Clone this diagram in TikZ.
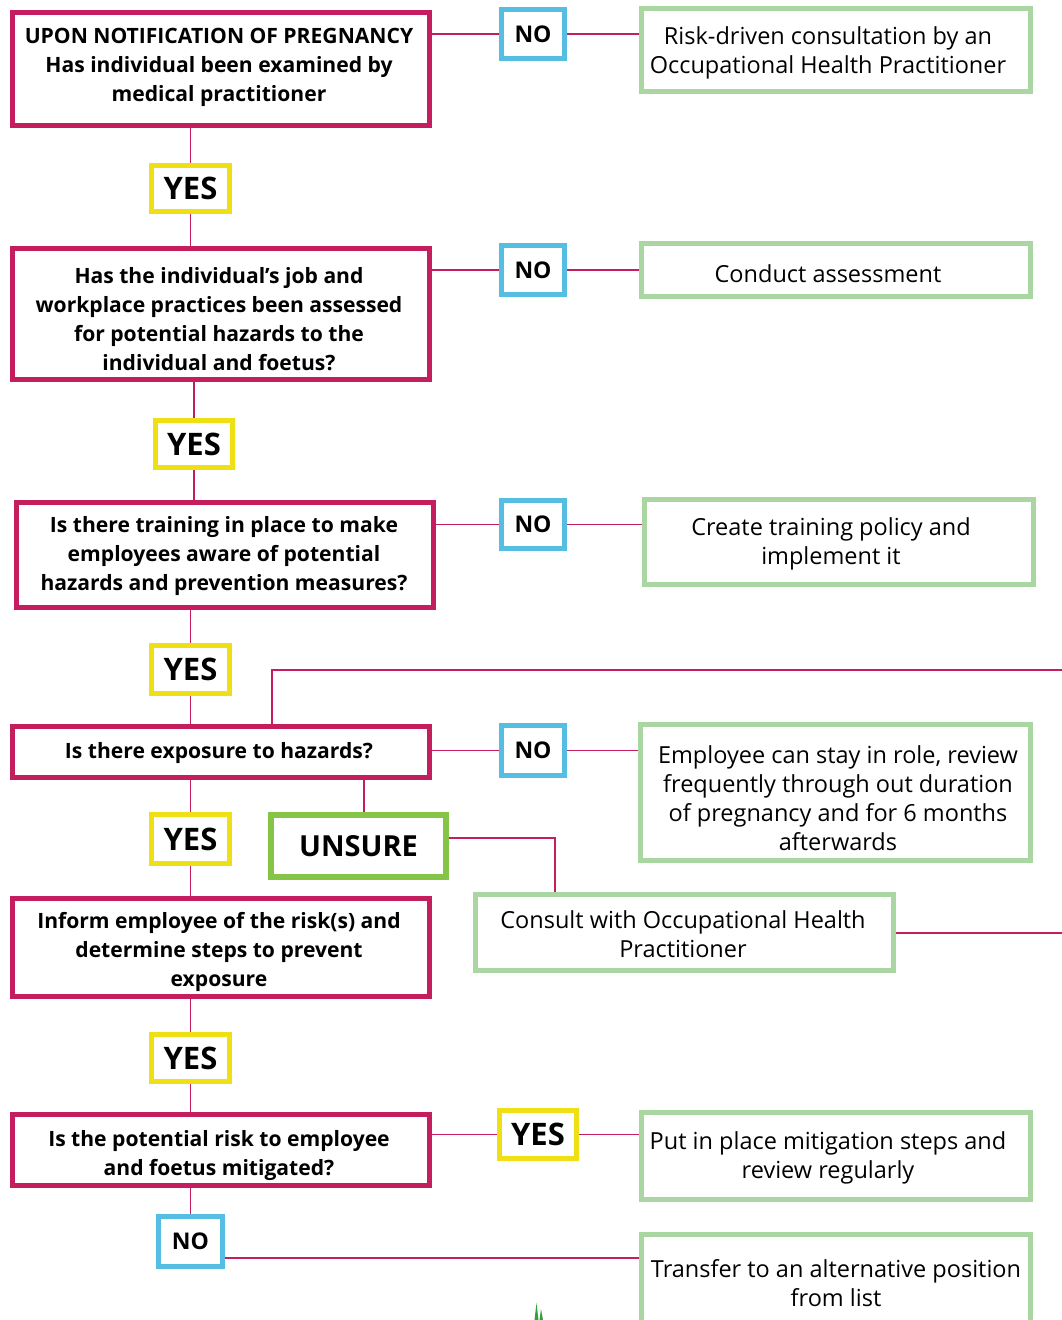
\documentclass[tikz,border=0pt]{standalone}
\usepackage{fontspec}
\setmainfont{Open Sans}
\usetikzlibrary{backgrounds}
\definecolor{mag}{RGB}{196,30,94}
\definecolor{nblue}{RGB}{86,190,226}
\definecolor{yel}{RGB}{238,224,20}
\definecolor{lgreen}{RGB}{170,214,162}
\definecolor{ugreen}{RGB}{132,196,70}
\definecolor{spike}{RGB}{50,160,60}
\newcommand\bx[7]{\node[#1, minimum width={#4-#2-5}, minimum height={#5-#3-5}] (#6) at ({(#2+#4)/2},{(#3+#5)/2}) {#7};}
\begin{document}
\begin{tikzpicture}[x=1pt,y=-1pt,
  qbox/.style={draw=mag, line width=5pt, fill=white, inner sep=0pt},
  gbox/.style={draw=lgreen, line width=5pt, fill=white, inner sep=0pt},
  nobox/.style={draw=nblue, line width=5pt, fill=white, inner sep=0pt, font=\bfseries\fontsize{23}{28}\selectfont},
  yesbox/.style={draw=yel, line width=5pt, fill=white, inner sep=0pt, font=\bfseries\fontsize{31}{34}\selectfont},
  unbox/.style={draw=ugreen, line width=6pt, fill=white, inner sep=0pt, font=\bfseries\fontsize{29}{34}\selectfont},
  qt/.style={font=\bfseries\fontsize{21.1}{29}\selectfont, align=center, inner sep=0pt, yshift=-2.5pt},
  gt/.style={font=\fontsize{23.5}{29}\selectfont, align=center, inner sep=0pt, yshift=-2pt},
  conn/.style={draw=mag, line width=1.8pt}]
\useasboundingbox (0,0) rectangle (1062,1320);
% question boxes
\bx{qbox}{10}{10}{432}{128}{b1}{}
\bx{qbox}{10}{246}{432}{382}{b2}{}
\bx{qbox}{14}{500}{436}{610}{b3}{}
\bx{qbox}{10}{724}{432}{780}{b4}{}
\bx{qbox}{10}{896}{432}{999}{b5}{}
\bx{qbox}{10}{1112}{432}{1188}{b6}{}
% answer boxes
\bx{nobox}{499}{7}{567}{61}{n1}{NO}
\bx{nobox}{499}{243}{567}{297}{n2}{NO}
\bx{nobox}{499}{498}{567}{551}{n3}{NO}
\bx{nobox}{499}{723}{567}{778}{n4}{NO}
\bx{nobox}{156}{1214}{225}{1269}{n5}{NO}
\bx{yesbox}{149}{163}{232}{214}{y1}{YES}
\bx{yesbox}{153}{418}{235}{470}{y2}{YES}
\bx{yesbox}{149}{643}{232}{696}{y3}{YES}
\bx{yesbox}{149}{812}{232}{866}{y4}{YES}
\bx{yesbox}{149}{1032}{232}{1084}{y5}{YES}
\bx{yesbox}{497}{1108}{579}{1161}{y6}{YES}
\node[unbox, minimum width=175pt, minimum height=62pt] (un) at (358.5,846) {UNSURE};
% outcome boxes
\bx{gbox}{639}{6}{1033}{94}{g1}{}
\bx{gbox}{639}{241}{1033}{299}{g2}{}
\bx{gbox}{642}{497}{1036}{587}{g3}{}
\bx{gbox}{638}{722}{1033}{863}{g4}{}
\bx{gbox}{473}{892}{896}{973}{g5}{}
\bx{gbox}{639}{1110}{1033}{1202}{g6}{}
\bx{gbox}{639}{1232}{1033}{1335}{g7}{}
% texts
\node[qt] (b1t) at (219,65) {UPON NOTIFICATION OF PREGNANCY\\Has individual been examined by\\medical practitioner};
\node[qt] (b2t) at (219,316.5) {Has the individual’s job and\\workplace practices been assessed\\for potential hazards to the\\individual and foetus?};
\node[qt] (b3t) at (224,553.5) {Is there training in place to make\\employees aware of potential\\hazards and prevention measures?};
\node[qt] (b4t) at (219,751) {Is there exposure to hazards?};
\node[qt] (b5t) at (219,949.5) {Inform employee of the risk(s) and\\determine steps to prevent\\exposure};
\node[qt] (b6t) at (219,1153.5) {Is the potential risk to employee\\and foetus mitigated?};
\node[gt] (g1t) at (828,50.5) {Risk-driven consultation by an\\Occupational Health Practitioner};
\node[gt] (g2t) at (828,272) {Conduct assessment};
\node[gt] (g3t) at (831,541.5) {Create training policy and\\implement it};
\node[gt] (g4t) at (838,796.5) {Employee can stay in role, review\\frequently through out duration\\of pregnancy and for 6 months\\afterwards};
\node[gt] (g5t) at (683,932.5) {Consult with Occupational Health\\Practitioner};
\node[gt] (g6t) at (828,1155.5) {Put in place mitigation steps and\\review regularly};
\node[gt] (g7t) at (836,1281.5) {Transfer to an alternative position\\from list};
% connectors
\coordinate (t1) at (272,670);
\coordinate (e1) at (1062,670);
\coordinate (u1) at (364,800);
\coordinate (u2) at (555,838);
\coordinate (e2) at (1062,933);
\coordinate (n5r) at (400,1258);
\begin{scope}[on background layer]
\draw[conn] (b1.east |- n1) -- (n1) -- (g1.west |- n1);
\draw[conn] (b2.east |- n2) -- (n2) -- (g2.west |- n2);
\draw[conn] (b3.east |- n3) -- (n3) -- (g3.west |- n3);
\draw[conn] (b4.east |- n4) -- (n4) -- (g4.west |- n4);
\draw[conn] (b6.east |- y6) -- (y6) -- (g6.west |- y6);
\draw[conn] (y1 |- b1.south) -- (y1) -- (y1 |- b2.north);
\draw[conn] (y2 |- b2.south) -- (y2) -- (y2 |- b3.north);
\draw[conn] (y3 |- b3.south) -- (y3) -- (y3 |- b4.north);
\draw[conn] (y4 |- b4.south) -- (y4) -- (y4 |- b5.north);
\draw[conn] (y5 |- b5.south) -- (y5) -- (y5 |- b6.north);
\draw[conn] (n5 |- b6.south) -- (n5);
\draw[conn] (n5.east |- n5r) -- (g7.west |- n5r);
\draw[conn] (t1 |- b4.north) -- (t1) -- (e1);
\draw[conn] (u1 |- b4.south) -- (u1 |- un.north);
\draw[conn] (un.east |- u2) -- (u2) -- (u2 |- g5.north);
\draw[conn] (g5.east |- e2) -- (e2);
\end{scope}
% green spikes at bottom edge
\fill[spike] (536.5,1303) -- (534.5,1320) -- (538.5,1320) -- cycle;
\fill[spike] (541,1309) -- (539.5,1320) -- (543,1320) -- cycle;
\end{tikzpicture}
\end{document}
